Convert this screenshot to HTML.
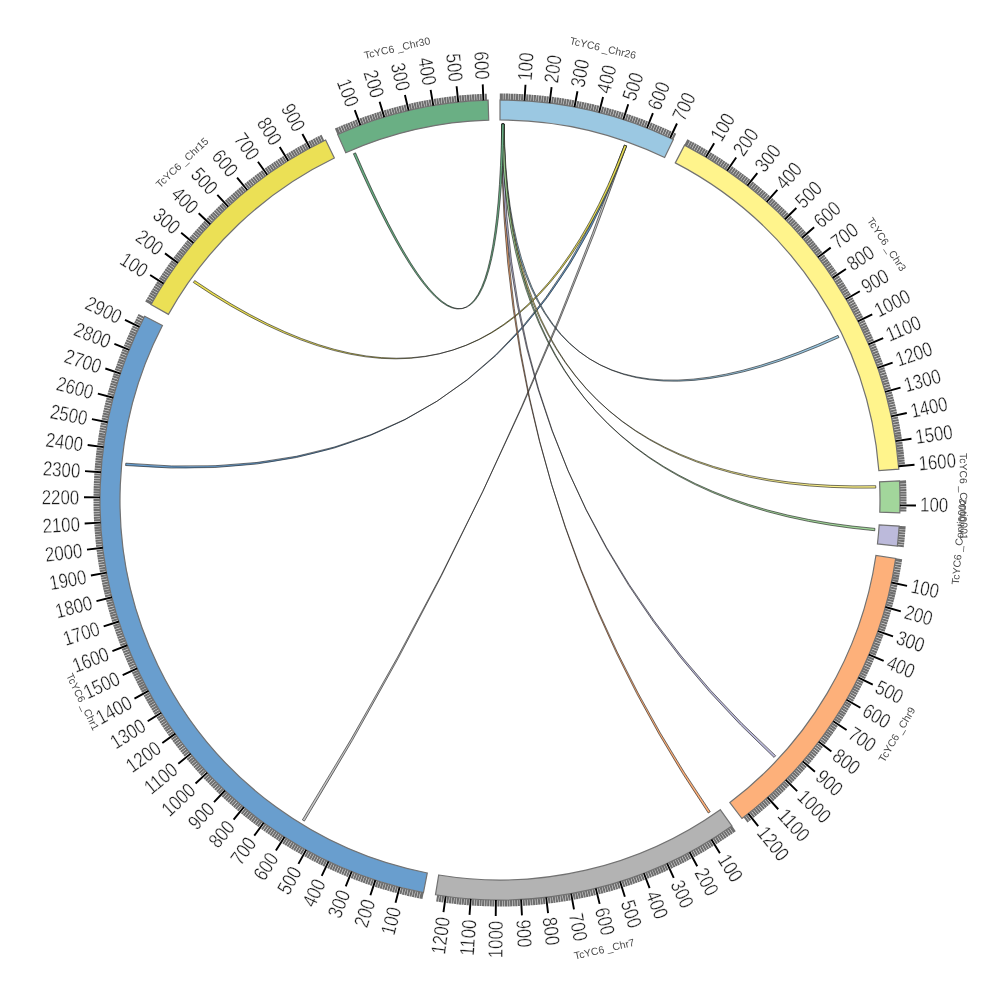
<!DOCTYPE html><html><head><meta charset="utf-8"><style>html,body{margin:0;padding:0;background:#fff;width:1000px;height:1000px;overflow:hidden}svg{display:block;will-change:transform}text{font-family:"Liberation Sans",sans-serif}</style></head><body>
<svg width="1000" height="1000" viewBox="0 0 1000 1000">
<rect width="1000" height="1000" fill="#fff"/>
<g stroke="#727272" stroke-width="1.2"><path d="M500,100 A400,400 0 0 1 673.3,139.49 L664.63,157.52 A380,380 0 0 0 500,120 Z" fill="#9bc8e2"/><path d="M684.54,145.11 A400,400 0 0 1 898.81,469.13 L878.87,470.68 A380,380 0 0 0 675.31,162.86 Z" fill="#fff48c"/><path d="M899.54,480.84 A400,400 0 0 1 899.79,512.85 L879.8,512.2 A380,380 0 0 0 879.56,481.8 Z" fill="#a2d69b"/><path d="M899.15,526.09 A400,400 0 0 1 897.33,546.18 L877.46,543.87 A380,380 0 0 0 879.19,524.79 Z" fill="#bcbadb"/><path d="M895.71,558.43 A400,400 0 0 1 741.96,818.52 L729.86,802.59 A380,380 0 0 0 875.92,555.51 Z" fill="#fdb07a"/><path d="M731.84,825.96 A400,400 0 0 1 435.49,894.76 L438.71,875.02 A380,380 0 0 0 720.25,809.66 Z" fill="#b3b3b3"/><path d="M423.46,892.61 A400,400 0 0 1 144.68,316.3 L162.44,325.49 A380,380 0 0 0 427.29,872.98 Z" fill="#699ece"/><path d="M150.96,304.62 A400,400 0 0 1 325.63,140 L334.35,158 A380,380 0 0 0 168.41,314.39 Z" fill="#ebe055"/><path d="M337.67,134.42 A400,400 0 0 1 488.13,100.18 L488.73,120.17 A380,380 0 0 0 345.78,152.7 Z" fill="#6aaf84"/></g>
<path d="M500.84 100L500.85 93.5M501.82 100L501.85 93.5M504.34 100.02L504.41 93.52M506.86 100.06L506.98 93.56M509.38 100.11L509.54 93.61M511.9 100.18L512.1 93.68M514.42 100.26L514.66 93.76M516.94 100.36L517.22 93.86M519.46 100.47L519.78 93.98M521.98 100.6L522.34 94.11M527.01 100.91L527.45 94.43M529.53 101.09L530.01 94.61M532.04 101.29L532.56 94.81M534.55 101.5L535.11 95.02M537.06 101.72L537.66 95.25M539.57 101.96L540.21 95.49M542.08 102.22L542.76 95.76M544.59 102.49L545.31 96.03M547.09 102.78L547.86 96.33M552.09 103.41L552.94 96.96M554.59 103.74L555.48 97.3M557.09 104.09L558.02 97.66M559.58 104.46L560.55 98.03M562.07 104.85L563.08 98.42M564.56 105.24L565.61 98.83M567.05 105.66L568.14 99.25M569.53 106.09L570.66 99.69M572.01 106.54L573.18 100.14M576.97 107.47L578.22 101.1M579.44 107.97L580.73 101.6M581.91 108.48L583.24 102.11M584.37 109L585.75 102.65M586.84 109.54L588.25 103.19M589.3 110.09L590.75 103.76M591.75 110.67L593.24 104.34M594.2 111.25L595.73 104.93M596.65 111.85L598.22 105.55M601.54 113.1L603.19 106.81M603.97 113.75L605.66 107.47M606.41 114.41L608.13 108.15M608.83 115.09L610.6 108.84M611.26 115.78L613.06 109.54M613.68 116.49L615.52 110.26M616.09 117.22L617.98 111M618.5 117.96L620.43 111.75M620.91 118.71L622.87 112.51M625.7 120.26L627.75 114.09M628.09 121.06L630.17 114.91M630.48 121.88L632.6 115.73M632.86 122.71L635.02 116.58M635.23 123.55L637.43 117.44M637.6 124.41L639.84 118.31M639.97 125.29L642.24 119.2M642.33 126.18L644.64 120.1M644.68 127.08L647.03 121.02M649.37 128.94L651.8 122.91M651.7 129.88L654.17 123.87M654.03 130.85L656.54 124.85M656.36 131.83L658.9 125.84M658.68 132.82L661.25 126.85M660.99 133.83L663.6 127.88M663.29 134.85L665.94 128.91M665.59 135.88L668.28 129.97M667.88 136.93L670.61 131.04M672.44 139.08L675.25 133.21M685.28 145.5L688.29 139.74M686.15 145.96L689.18 140.2M688.38 147.14L691.44 141.4M690.6 148.33L693.7 142.62M692.81 149.54L695.95 143.84M695.02 150.76L698.19 145.09M697.22 152L700.42 146.34M699.41 153.25L702.65 147.61M701.59 154.51L704.86 148.9M703.76 155.79L707.07 150.19M708.08 158.38L711.46 152.83M710.23 159.7L713.65 154.17M712.37 161.03L715.82 155.53M714.5 162.38L717.99 156.89M716.63 163.74L720.15 158.27M718.74 165.11L722.3 159.67M720.85 166.49L724.44 161.07M722.95 167.89L726.57 162.5M725.03 169.3L728.69 163.93M729.18 172.17L732.91 166.84M731.25 173.62L735 168.31M733.3 175.08L737.09 169.8M735.34 176.56L739.17 171.3M737.38 178.05L741.23 172.82M739.4 179.55L743.29 174.34M741.41 181.07L745.34 175.88M743.42 182.59L747.38 177.44M745.42 184.13L749.4 179M749.38 187.25L753.43 182.17M751.34 188.83L755.43 183.77M753.3 190.42L757.42 185.39M755.25 192.02L759.39 187.02M757.18 193.64L761.36 188.66M759.11 195.26L763.32 190.31M761.02 196.9L765.26 191.98M762.93 198.55L767.2 193.66M764.82 200.22L769.13 195.35M768.58 203.58L772.94 198.76M770.44 205.28L774.84 200.49M772.29 206.99L776.72 202.23M774.14 208.71L778.59 203.98M775.97 210.44L780.45 205.74M777.79 212.19L782.3 207.51M779.59 213.94L784.14 209.3M781.39 215.71L785.96 211.09M783.18 217.49L787.78 212.9M786.72 221.08L791.37 216.55M788.47 222.9L793.15 218.39M790.21 224.72L794.92 220.25M791.94 226.55L796.68 222.11M793.65 228.4L798.43 223.99M795.36 230.26L800.16 225.87M797.05 232.12L801.88 227.77M798.74 234L803.59 229.68M800.41 235.89L805.29 231.6M803.71 239.69L808.65 235.46M805.35 241.61L810.31 237.42M806.97 243.54L811.96 239.38M808.58 245.48L813.59 241.35M810.18 247.43L815.22 243.33M811.76 249.39L816.83 245.32M813.34 251.36L818.43 247.32M814.9 253.34L820.01 249.33M816.45 255.33L821.59 251.36M819.5 259.34L824.7 255.43M821.01 261.36L826.23 257.48M822.51 263.39L827.75 259.54M824 265.42L829.26 261.61M825.47 267.47L830.76 263.69M826.93 269.53L832.24 265.78M828.37 271.59L833.71 267.88M829.81 273.66L835.17 269.99M831.23 275.75L836.61 272.1M834.03 279.94L839.45 276.36M835.41 282.05L840.86 278.51M836.77 284.17L842.25 280.66M838.13 286.29L843.62 282.82M839.47 288.43L844.98 284.99M840.79 290.57L846.33 287.17M842.11 292.73L847.67 289.36M843.41 294.89L848.99 291.55M844.69 297.05L850.29 293.76M847.22 301.41L852.87 298.19M848.47 303.61L854.13 300.42M849.7 305.81L855.38 302.65M850.92 308.01L856.62 304.9M852.12 310.23L857.84 307.15M853.31 312.45L859.05 309.41M854.48 314.68L860.24 311.67M855.64 316.92L861.42 313.95M856.79 319.17L862.59 316.23M859.04 323.68L864.88 320.81M860.15 325.94L866 323.12M861.23 328.22L867.11 325.43M862.31 330.5L868.2 327.74M863.37 332.78L869.28 330.07M864.42 335.08L870.34 332.4M865.45 337.38L871.39 334.73M866.47 339.68L872.42 337.08M867.47 342L873.44 339.43M869.43 346.64L875.44 344.15M870.39 348.97L876.41 346.52M871.34 351.31L877.37 348.89M872.27 353.65L878.32 351.27M873.18 356L879.25 353.66M874.08 358.36L880.16 356.05M874.97 360.72L881.06 358.45M875.84 363.08L881.94 360.86M876.69 365.45L882.81 363.27M878.36 370.21L884.51 368.1M879.17 372.6L885.33 370.53M879.96 374.99L886.14 372.96M880.74 377.39L886.93 375.4M881.51 379.79L887.71 377.84M882.26 382.2L888.47 380.28M882.99 384.61L889.22 382.73M883.71 387.03L889.95 385.19M884.42 389.45L890.67 387.65M885.78 394.3L892.05 392.58M886.44 396.73L892.72 395.06M887.08 399.17L893.37 397.53M887.71 401.61L894.01 400.01M888.32 404.06L894.63 402.5M888.92 406.51L895.24 404.99M889.5 408.96L895.83 407.48M890.07 411.42L896.41 409.98M890.62 413.88L896.97 412.48M891.67 418.81L898.04 417.49M892.18 421.28L898.55 420M892.67 423.75L899.05 422.51M893.14 426.23L899.53 425.03M893.6 428.71L899.99 427.55M894.04 431.19L900.44 430.07M894.46 433.67L900.87 432.59M894.87 436.16L901.29 435.12M895.27 438.65L901.69 437.65M896.01 443.64L902.44 442.72M896.36 446.13L902.8 445.26M896.69 448.63L903.13 447.8M897 451.13L903.46 450.34M897.3 453.64L903.76 452.88M897.59 456.14L904.05 455.43M897.86 458.65L904.32 457.98M898.11 461.16L904.58 460.52M898.35 463.67L904.82 463.08M899.58 481.68L906.07 481.38M899.62 482.66L906.12 482.38M899.73 485.18L906.22 484.94M899.81 487.7L906.31 487.5M899.88 490.22L906.38 490.06M899.93 492.74L906.43 492.62M899.97 495.26L906.47 495.18M899.99 497.78L906.49 497.74M900 500.3L906.5 500.31M899.99 502.82L906.49 502.87M899.92 507.86L906.42 507.99M899.87 510.38L906.36 510.55M899.09 526.93L905.58 527.37M899.02 527.91L905.51 528.37M898.84 530.43L905.32 530.92M898.64 532.94L905.12 533.47M898.43 535.45L904.9 536.03M898.19 537.96L904.67 538.58M897.95 540.47L904.41 541.13M897.68 542.98L904.15 543.68M897.41 545.48L903.86 546.22M895.59 559.26L902.01 560.22M895.44 560.23L901.87 561.21M895.05 562.72L901.47 563.74M894.65 565.21L901.06 566.27M894.23 567.69L900.64 568.79M893.8 570.18L900.19 571.32M893.35 572.66L899.74 573.84M892.88 575.14L899.26 576.36M892.4 577.61L898.77 578.87M891.9 580.08L898.27 581.38M890.86 585.02L897.21 586.4M890.32 587.48L896.66 588.9M889.76 589.94L896.09 591.4M889.18 592.39L895.51 593.89M888.59 594.84L894.91 596.38M887.99 597.29L894.29 598.87M887.37 599.73L893.66 601.35M886.73 602.17L893.02 603.83M886.08 604.61L892.35 606.31M884.73 609.46L890.98 611.24M884.03 611.89L890.27 613.7M883.32 614.3L889.55 616.16M882.59 616.72L888.81 618.61M881.85 619.13L888.05 621.06M881.09 621.53L887.28 623.51M880.32 623.93L886.5 625.94M879.53 626.32L885.7 628.38M878.73 628.71L884.88 630.81M877.07 633.48L883.2 635.65M876.22 635.85L882.34 638.06M875.36 638.22L881.46 640.47M874.48 640.58L880.57 642.87M873.59 642.94L879.66 645.26M872.68 645.29L878.74 647.65M871.76 647.64L877.8 650.04M870.82 649.98L876.85 652.41M869.87 652.31L875.88 654.79M867.92 656.96L873.9 659.51M866.92 659.28L872.88 661.86M865.91 661.59L871.86 664.21M864.88 663.89L870.81 666.55M863.84 666.18L869.76 668.89M862.79 668.47L868.68 671.21M861.72 670.76L867.6 673.53M860.64 673.03L866.5 675.85M859.54 675.3L865.38 678.15M857.3 679.82L863.11 682.74M856.16 682.07L861.95 685.03M855.01 684.31L860.78 687.31M853.84 686.54L859.59 689.58M852.66 688.77L858.39 691.84M851.46 690.99L857.17 694.09M850.25 693.2L855.94 696.34M849.02 695.4L854.69 698.58M847.78 697.6L853.44 700.81M845.27 701.97L850.88 705.25M843.99 704.14L849.58 707.46M842.69 706.3L848.26 709.66M841.39 708.46L846.93 711.85M840.07 710.61L845.59 714.03M838.73 712.75L844.24 716.2M837.38 714.88L842.87 718.37M836.02 717L841.48 720.52M834.65 719.11L840.09 722.67M831.86 723.31L837.25 726.94M830.45 725.4L835.82 729.06M829.02 727.48L834.37 731.17M827.58 729.55L832.9 733.28M826.13 731.61L831.43 735.37M824.66 733.66L829.94 737.45M823.18 735.7L828.43 739.53M821.69 737.73L826.92 741.59M820.18 739.75L825.39 743.65M817.14 743.77L822.29 747.73M815.6 745.76L820.72 749.76M814.04 747.75L819.14 751.77M812.47 749.72L817.55 753.78M810.89 751.69L815.94 755.78M809.3 753.64L814.33 757.76M807.7 755.58L812.7 759.74M806.08 757.52L811.05 761.7M804.45 759.44L809.4 763.66M801.15 763.26L806.05 767.54M799.49 765.15L804.36 769.46M797.81 767.03L802.65 771.37M796.12 768.91L800.94 773.28M794.42 770.77L799.21 775.17M792.71 772.62L797.47 777.05M790.99 774.46L795.72 778.92M789.25 776.29L793.95 780.77M787.5 778.1L792.18 782.62M783.98 781.7L788.59 786.28M782.2 783.49L786.78 788.1M780.4 785.26L784.96 789.9M778.6 787.02L783.13 791.69M776.79 788.77L781.28 793.47M774.96 790.51L779.43 795.23M773.12 792.24L777.56 796.99M771.28 793.95L775.68 798.73M769.42 795.66L773.8 800.46M765.67 799.03L769.99 803.89M763.78 800.7L768.07 805.58M761.88 802.36L766.14 807.27M759.97 804L764.19 808.94M758.05 805.63L762.24 810.6M756.12 807.25L760.28 812.24M754.18 808.86L758.31 813.88M752.22 810.46L756.32 815.5M750.26 812.04L754.33 817.11M746.31 815.17L750.31 820.29M744.32 816.71L748.29 821.86M731.16 826.45L734.91 831.75M730.35 827.01L734.09 832.33M728.29 828.46L731.99 833.8M726.21 829.89L729.89 835.25M724.13 831.31L727.77 836.69M722.03 832.72L725.64 838.12M719.93 834.11L723.51 839.54M717.82 835.49L721.36 840.94M715.7 836.86L719.21 842.33M713.58 838.21L717.05 843.7M709.3 840.87L712.7 846.41M707.15 842.19L710.51 847.75M704.98 843.48L708.32 849.07M702.82 844.77L706.11 850.37M700.64 846.04L703.9 851.66M698.45 847.3L701.68 852.94M696.26 848.54L699.45 854.21M694.06 849.77L697.21 855.46M691.85 850.99L694.97 856.69M687.41 853.38L690.46 859.12M685.18 854.55L688.19 860.31M682.94 855.71L685.92 861.49M680.7 856.86L683.64 862.66M678.45 857.99L681.35 863.81M676.19 859.11L679.05 864.94M673.92 860.21L676.75 866.06M671.65 861.3L674.44 867.17M669.37 862.37L672.12 868.26M664.78 864.48L667.46 870.4M662.48 865.51L665.12 871.45M660.18 866.53L662.78 872.48M657.86 867.53L660.43 873.5M655.55 868.52L658.07 874.51M653.22 869.49L655.71 875.5M650.89 870.45L653.34 876.47M648.55 871.39L650.96 877.43M646.21 872.32L648.58 878.37M641.5 874.14L643.8 880.21M639.14 875.02L641.4 881.11M636.78 875.89L639 882M634.4 876.74L636.59 882.87M632.03 877.58L634.17 883.72M629.64 878.41L631.75 884.56M627.26 879.22L629.32 885.38M624.86 880.01L626.89 886.19M622.47 880.79L624.46 886.98M617.66 882.3L619.57 888.52M615.25 883.04L617.12 889.26M612.83 883.76L614.66 889.99M610.41 884.46L612.2 890.71M607.98 885.15L609.74 891.41M605.55 885.82L607.27 892.09M603.12 886.48L604.8 892.76M600.68 887.12L602.32 893.41M598.24 887.75L599.84 894.05M593.35 888.96L594.86 895.28M590.89 889.54L592.37 895.87M588.44 890.1L589.87 896.44M585.98 890.65L587.37 897M583.51 891.19L584.87 897.54M581.05 891.7L582.36 898.07M578.57 892.21L579.85 898.58M576.1 892.69L577.34 899.08M573.63 893.17L574.82 899.55M568.66 894.06L569.78 900.47M566.18 894.49L567.25 900.9M563.69 894.9L564.73 901.31M561.2 895.29L562.2 901.71M558.71 895.67L559.66 902.1M556.21 896.03L557.13 902.47M553.72 896.38L554.59 902.82M551.22 896.71L552.05 903.15M548.72 897.02L549.51 903.47M543.71 897.6L544.42 904.07M541.2 897.87L541.87 904.34M538.69 898.12L539.32 904.59M536.18 898.36L536.77 904.83M533.67 898.58L534.22 905.06M531.16 898.78L531.67 905.26M528.65 898.97L529.11 905.46M526.13 899.15L526.56 905.63M523.61 899.3L524 905.79M518.58 899.57L518.88 906.06M516.06 899.68L516.32 906.17M513.54 899.77L513.76 906.27M511.02 899.85L511.2 906.35M508.5 899.91L508.64 906.41M505.98 899.96L506.08 906.45M503.46 899.99L503.52 906.48M500.94 900L500.96 906.5M498.42 900L498.39 906.5M493.38 899.95L493.27 906.44M490.86 899.9L490.71 906.39M488.34 899.83L488.15 906.33M485.82 899.75L485.59 906.24M483.3 899.65L483.03 906.15M480.78 899.54L480.47 906.03M478.26 899.41L477.91 905.9M475.75 899.26L475.35 905.75M473.23 899.1L472.8 905.59M468.2 898.73L467.69 905.21M465.69 898.53L465.13 905M463.18 898.3L462.58 904.77M460.67 898.06L460.03 904.53M458.16 897.81L457.48 904.27M455.65 897.53L454.93 903.99M453.15 897.25L452.39 903.7M450.65 896.94L449.85 903.39M448.15 896.62L447.3 903.07M443.15 895.94L442.23 902.37M440.66 895.57L439.69 902M438.17 895.19L437.16 901.61M422.64 892.45L421.38 898.82M421.67 892.26L420.4 898.63M419.2 891.75L417.89 898.12M416.73 891.24L415.38 897.6M414.27 890.7L412.88 897.05M411.81 890.16L410.38 896.5M409.35 889.59L407.88 895.92M406.9 889.01L405.39 895.34M404.45 888.42L402.9 894.73M402 887.81L400.41 894.11M397.12 886.54L395.45 892.83M394.69 885.89L392.98 892.16M392.26 885.22L390.51 891.48M389.83 884.53L388.04 890.78M387.41 883.83L385.58 890.07M384.99 883.11L383.13 889.34M382.58 882.38L380.67 888.59M380.17 881.63L378.23 887.83M377.77 880.87L375.79 887.06M372.98 879.3L370.92 885.46M370.59 878.49L368.49 884.64M368.21 877.67L366.07 883.8M365.83 876.83L363.65 882.95M363.46 875.97L361.24 882.08M361.09 875.11L358.84 881.2M358.73 874.22L356.44 880.31M356.38 873.33L354.04 879.39M354.03 872.41L351.66 878.47M349.34 870.54L346.9 876.57M347.01 869.59L344.53 875.59M344.69 868.62L342.16 874.61M342.37 867.63L339.8 873.6M340.05 866.63L337.45 872.59M337.75 865.61L335.11 871.55M335.44 864.58L332.77 870.51M333.15 863.54L330.44 869.45M330.86 862.48L328.11 868.37M326.31 860.32L323.48 866.18M324.04 859.22L321.18 865.06M321.78 858.1L318.88 863.92M319.53 856.97L316.59 862.77M317.28 855.83L314.31 861.61M315.04 854.67L312.03 860.43M312.81 853.5L309.77 859.24M310.58 852.31L307.51 858.03M308.37 851.11L305.25 856.81M303.96 848.67L300.77 854.33M301.76 847.42L298.54 853.07M299.58 846.17L296.32 851.79M297.4 844.9L294.11 850.5M295.23 843.61L291.9 849.2M293.07 842.32L289.71 847.88M290.92 841L287.52 846.55M288.77 839.68L285.34 845.2M286.64 838.34L283.17 843.84M282.39 835.63L278.85 841.08M280.28 834.25L276.71 839.68M278.17 832.86L274.57 838.27M276.08 831.45L272.44 836.84M274 830.03L270.32 835.4M271.92 828.6L268.21 833.94M269.85 827.16L266.11 832.48M267.8 825.7L264.02 830.99M265.75 824.23L261.94 829.5M261.68 821.25L257.81 826.47M259.66 819.75L255.76 824.94M257.65 818.22L253.71 823.4M255.65 816.69L251.68 821.84M253.66 815.14L249.66 820.27M251.68 813.59L247.64 818.68M249.71 812.01L245.64 817.09M247.75 810.43L243.65 815.48M245.79 808.84L241.66 813.85M241.92 805.61L237.73 810.57M240 803.97L235.78 808.91M238.09 802.33L233.83 807.24M236.19 800.67L231.9 805.56M234.3 799L229.98 803.86M232.42 797.32L228.07 802.16M230.55 795.63L226.17 800.44M228.69 793.93L224.29 798.7M226.85 792.21L222.41 796.96M223.19 788.75L218.69 793.44M221.37 787L216.84 791.66M219.57 785.23L215.01 789.87M217.78 783.46L213.19 788.07M216 781.68L211.38 786.25M214.23 779.88L209.58 784.43M212.47 778.07L207.8 782.59M210.72 776.26L206.02 780.75M208.99 774.43L204.26 778.89M205.55 770.74L200.77 775.14M203.85 768.88L199.04 773.25M202.16 767.01L197.32 771.34M200.48 765.12L195.62 769.43M198.82 763.23L193.93 767.51M197.17 761.33L192.25 765.57M195.53 759.41L190.58 763.63M193.9 757.49L188.92 761.67M192.28 755.55L187.28 759.71M189.08 751.66L184.03 755.75M187.5 749.69L182.43 753.75M185.94 747.72L180.83 751.74M184.38 745.73L179.25 749.73M182.84 743.74L177.68 747.7M181.31 741.74L176.13 745.66M179.79 739.72L174.59 743.62M178.29 737.7L173.06 741.56M176.8 735.67L171.54 739.5M173.85 731.57L168.55 735.34M172.4 729.51L167.07 733.24M170.96 727.44L165.61 731.14M169.53 725.37L164.16 729.03M168.12 723.28L162.72 726.91M166.72 721.18L161.3 724.78M165.33 719.08L159.89 722.64M163.96 716.97L158.49 720.49M162.59 714.84L157.11 718.33M159.91 710.57L154.39 713.99M158.59 708.43L153.05 711.81M157.29 706.27L151.72 709.62M155.99 704.11L150.4 707.42M154.71 701.93L149.1 705.22M153.45 699.75L147.82 703M152.2 697.57L146.54 700.78M150.96 695.37L145.29 698.54M149.73 693.17L144.04 696.31M147.33 688.74L141.6 691.8M146.14 686.51L140.39 689.54M144.98 684.28L139.21 687.27M143.82 682.03L138.03 684.99M142.68 679.79L136.87 682.71M141.55 677.53L135.73 680.42M140.44 675.27L134.6 678.12M139.35 673L133.49 675.81M138.26 670.72L132.38 673.5M136.14 666.15L130.23 668.85M135.1 663.85L129.17 666.52M134.07 661.55L128.13 664.18M133.06 659.24L127.1 661.83M132.07 656.92L126.09 659.47M131.09 654.6L125.09 657.12M130.12 652.27L124.11 654.75M129.17 649.94L123.14 652.38M128.23 647.6L122.19 650M126.4 642.9L120.33 645.23M125.5 640.55L119.42 642.83M124.63 638.18L118.53 640.43M123.76 635.81L117.65 638.02M122.91 633.44L116.79 635.61M122.08 631.06L115.94 633.19M121.26 628.68L115.11 630.77M120.46 626.29L114.29 628.34M119.67 623.89L113.49 625.91M118.14 619.09L111.93 621.02M117.4 616.68L111.18 618.58M116.67 614.27L110.44 616.12M115.96 611.85L109.72 613.67M115.26 609.43L109.01 611.2M114.58 607L108.31 608.74M113.91 604.57L107.64 606.27M113.26 602.13L106.97 603.79M112.62 599.69L106.33 601.31M111.4 594.8L105.08 596.34M110.81 592.35L104.48 593.85M110.23 589.9L103.9 591.36M109.67 587.44L103.33 588.86M109.13 584.98L102.78 586.36M108.6 582.51L102.24 583.85M108.09 580.04L101.72 581.34M107.59 577.57L101.22 578.83M107.11 575.1L100.73 576.32M106.2 570.14L99.8 571.28M105.76 567.66L99.36 568.76M105.34 565.17L98.93 566.23M104.94 562.68L98.52 563.7M104.55 560.19L98.13 561.17M104.18 557.7L97.75 558.64M103.83 555.2L97.39 556.1M103.49 552.7L97.04 553.56M103.16 550.2L96.71 551.02M102.56 545.2L96.1 545.93M102.28 542.69L95.82 543.39M102.02 540.18L95.56 540.84M101.78 537.68L95.31 538.29M101.55 535.17L95.07 535.74M101.34 532.65L94.86 533.18M101.14 530.14L94.66 530.63M100.96 527.63L94.47 528.08M100.79 525.11L94.3 525.52M100.5 520.08L94.01 520.4M100.39 517.56L93.89 517.84M100.28 515.04L93.79 515.28M100.2 512.52L93.7 512.72M100.13 510L93.63 510.16M100.07 507.48L93.57 507.6M100.03 504.96L93.53 505.04M100.01 502.44L93.51 502.48M100 499.92L93.5 499.92M100.03 494.88L93.53 494.79M100.07 492.36L93.57 492.23M100.13 489.84L93.63 489.67M100.2 487.32L93.7 487.11M100.29 484.8L93.79 484.55M100.39 482.28L93.9 481.99M100.51 479.76L94.02 479.43M100.65 477.24L94.16 476.87M100.8 474.73L94.31 474.31M101.15 469.7L94.67 469.2M101.35 467.18L94.87 466.65M101.56 464.67L95.09 464.1M101.79 462.16L95.32 461.55M102.04 459.65L95.57 459M102.3 457.14L95.84 456.45M102.58 454.64L96.12 453.9M102.87 452.14L96.42 451.36M103.18 449.63L96.74 448.82M103.85 444.64L97.41 443.74M104.21 442.14L97.78 441.2M104.58 439.65L98.15 438.67M104.97 437.16L98.55 436.14M105.37 434.67L98.96 433.61M105.79 432.18L99.39 431.08M106.23 429.7L99.83 428.56M106.68 427.22L100.29 426.04M107.14 424.74L100.76 423.52M108.12 419.8L101.76 418.49M108.64 417.33L102.28 415.98M109.17 414.86L102.81 413.48M109.71 412.4L103.37 410.98M110.27 409.94L103.94 408.48M110.84 407.49L104.52 405.99M111.44 405.04L105.12 403.5M112.04 402.59L105.74 401.01M112.66 400.15L106.37 398.53M113.95 395.27L107.68 393.57M114.62 392.84L108.36 391.1M115.3 390.42L109.05 388.64M116 387.99L109.76 386.17M116.72 385.58L110.49 383.72M117.44 383.16L111.23 381.26M118.19 380.75L111.98 378.82M118.95 378.35L112.75 376.37M119.72 375.95L113.54 373.94M121.32 371.17L115.16 369.07M122.13 368.78L115.99 366.65M122.97 366.41L116.84 364.23M123.82 364.03L117.71 361.82M124.68 361.66L118.58 359.42M125.56 359.3L119.48 357.01M126.46 356.94L120.39 354.62M127.37 354.59L121.31 352.23M128.29 352.25L122.25 349.85M130.18 347.57L124.17 345.1M131.15 345.25L125.16 342.73M132.13 342.92L126.15 340.37M133.13 340.61L127.17 338.02M134.14 338.3L128.2 335.67M135.17 336L129.24 333.33M136.21 333.7L130.3 331M137.26 331.41L131.37 328.67M138.33 329.13L132.46 326.35M140.52 324.58L134.67 321.73M141.63 322.32L135.8 319.44M142.75 320.07L136.95 317.14M143.9 317.82L138.11 314.86M151.37 303.89L145.71 300.7M151.86 303.03L146.2 299.83M153.1 300.84L147.47 297.61M154.37 298.66L148.75 295.39M155.64 296.49L150.05 293.18M156.93 294.32L151.36 290.98M158.23 292.16L152.68 288.79M159.55 290.01L154.02 286.6M160.88 287.87L155.37 284.42M162.23 285.74L156.74 282.26M164.95 281.5L159.51 277.95M166.34 279.39L160.91 275.81M167.73 277.29L162.33 273.67M169.14 275.2L163.77 271.55M170.57 273.12L165.21 269.44M172 271.05L166.67 267.33M173.45 268.99L168.15 265.23M174.91 266.93L169.63 263.15M176.39 264.89L171.13 261.07M179.38 260.83L174.17 256.94M180.89 258.81L175.71 254.89M182.42 256.81L177.26 252.86M183.96 254.81L178.82 250.83M185.51 252.82L180.4 248.81M187.07 250.85L181.99 246.8M188.65 248.88L183.59 244.8M190.24 246.92L185.21 242.81M191.84 244.98L186.83 240.83M195.08 241.11L190.12 236.9M196.72 239.19L191.79 234.96M198.37 237.29L193.46 233.02M200.03 235.39L195.15 231.09M201.7 233.51L196.85 229.18M203.39 231.63L198.57 227.27M205.08 229.77L200.29 225.38M206.79 227.92L202.03 223.49M208.51 226.07L203.78 221.62M211.99 222.42L207.31 217.91M213.74 220.61L209.09 216.07M215.51 218.81L210.89 214.24M217.29 217.03L212.69 212.43M219.08 215.25L214.51 210.62M220.88 213.48L216.34 208.83M222.69 211.73L218.18 207.05M224.51 209.99L220.03 205.28M226.34 208.26L221.9 203.52M230.04 204.83L225.66 200.04M231.91 203.14L227.55 198.31M233.79 201.45L229.46 196.6M235.67 199.78L231.38 194.9M237.57 198.12L233.31 193.22M239.48 196.47L235.24 191.54M241.4 194.84L237.19 189.88M243.32 193.21L239.15 188.23M245.26 191.6L241.12 186.59M249.17 188.42L245.09 183.35M251.14 186.84L247.09 181.75M253.12 185.28L249.11 180.17M255.11 183.73L251.13 178.59M257.1 182.19L253.16 177.03M259.11 180.67L255.2 175.48M261.13 179.16L257.25 173.94M263.16 177.66L259.31 172.42M265.19 176.17L261.38 170.91M269.29 173.24L265.54 167.93M271.36 171.79L267.64 166.46M273.43 170.36L269.75 165M275.51 168.93L271.86 163.55M277.6 167.53L273.99 162.12M279.7 166.13L276.12 160.71M281.81 164.75L278.26 159.3M283.93 163.38L280.42 157.91M286.05 162.03L282.58 156.53M290.33 159.36L286.92 153.82M292.48 158.04L289.11 152.48M294.64 156.74L291.3 151.16M296.81 155.45L293.51 149.85M298.98 154.18L295.72 148.56M301.17 152.92L297.94 147.28M303.36 151.67L300.16 146.01M305.56 150.44L302.4 144.76M307.76 149.22L304.64 143.52M312.2 146.83L309.15 141.09M314.43 145.65L311.41 139.89M316.67 144.49L313.69 138.71M318.91 143.34L315.97 137.54M321.16 142.21L318.26 136.39M323.42 141.09L320.55 135.25M338.43 134.08L335.81 128.14M339.33 133.69L336.72 127.73M341.64 132.68L339.07 126.71M343.96 131.69L341.43 125.7M346.29 130.71L343.79 124.71M348.62 129.75L346.16 123.74M350.95 128.81L348.53 122.77M353.3 127.87L350.91 121.83M355.64 126.96L353.3 120.89M358 126.05L355.69 119.98M362.72 124.29L360.49 118.19M365.09 123.44L362.9 117.32M367.47 122.59L365.32 116.46M369.85 121.77L367.74 115.62M372.24 120.95L370.16 114.79M374.63 120.16L372.59 113.98M377.02 119.37L375.03 113.19M379.43 118.61L377.47 112.41M381.83 117.85L379.91 111.64M386.66 116.39L384.82 110.16M389.08 115.69L387.28 109.44M391.5 115L389.74 108.74M393.93 114.32L392.21 108.05M396.36 113.66L394.68 107.38M398.8 113.01L397.16 106.72M401.24 112.38L399.64 106.08M403.69 111.77L402.12 105.46M406.13 111.17L404.61 104.85M411.04 110.02L409.6 103.68M413.5 109.46L412.1 103.12M415.97 108.93L414.6 102.57M418.43 108.4L417.11 102.04M420.9 107.9L419.62 101.53M423.37 107.41L422.13 101.03M425.85 106.93L424.65 100.55M428.33 106.47L427.16 100.08M430.81 106.03L429.69 99.63M435.78 105.19L434.74 98.77M438.27 104.79L437.27 98.37M440.76 104.41L439.8 97.98M443.26 104.05L442.34 97.61M445.75 103.7L444.87 97.26M448.25 103.36L447.41 96.92M450.75 103.04L449.95 96.59M453.26 102.74L452.5 96.29M455.76 102.45L455.04 95.99M460.77 101.93L460.14 95.46M463.28 101.69L462.69 95.22M465.8 101.47L465.24 94.99M468.31 101.26L467.79 94.78M470.82 101.07L470.35 94.58M473.34 100.89L472.9 94.4M475.85 100.73L475.46 94.24M478.37 100.59L478.02 94.09M480.89 100.46L480.58 93.96M485.92 100.25L485.7 93.75" stroke="#6e6e6e" stroke-width="2.1" fill="none"/>
<path d="M524.5 100.75L525.48 84.78M549.59 103.09L551.58 87.21M574.49 107L577.47 91.28M599.1 112.47L603.06 96.97M623.31 119.48L628.24 104.26M647.03 128L652.91 113.12M670.16 138L676.97 123.52M705.93 157.08L714.16 143.36M727.11 170.73L736.2 157.56M747.4 185.69L757.3 173.11M766.71 201.89L777.37 189.97M784.95 219.28L796.35 208.05M802.07 237.79L814.15 227.3M817.98 257.33L830.7 247.62M832.63 277.84L845.94 268.95M845.96 299.23L859.8 291.2M857.92 321.42L872.24 314.28M868.46 344.32L883.2 338.09M877.53 367.83L892.63 362.54M885.11 391.87L900.51 387.55M891.15 416.34L906.8 412.99M895.65 441.14L911.47 438.79M898.57 466.18L914.51 464.82M899.96 505.34L915.96 505.56M891.39 582.55L907.04 585.85M885.41 607.04L900.83 611.32M877.91 631.1L893.02 636.34M868.9 654.64L883.66 660.82M858.43 677.57L872.76 684.67M846.53 699.79L860.39 707.78M833.26 721.22L846.59 730.06M818.67 741.77L831.41 751.44M802.81 761.36L814.92 771.81M785.75 779.91L797.18 791.11M767.55 797.35L778.25 809.24M748.29 813.61L758.22 826.15M711.44 839.55L719.9 853.13M689.64 852.19L697.22 866.28M667.08 863.43L673.76 877.97M643.86 873.24L649.61 888.17M620.06 881.56L624.87 896.82M595.8 888.36L599.63 903.89M571.15 893.62L573.99 909.37M546.21 897.32L548.06 913.21M521.1 899.44L521.94 915.42M495.9 899.98L495.73 915.98M470.72 898.93L469.54 914.88M445.65 896.29L443.47 912.14M399.56 887.18L395.54 902.67M375.37 880.09L370.39 895.29M351.68 871.49L345.75 886.35M328.58 861.41L321.72 875.86M306.16 849.89L298.41 863.89M284.51 836.99L275.89 850.47M263.71 822.75L254.26 835.66M243.85 807.23L233.61 819.52M225.01 790.48L214.01 802.1M207.26 772.59L195.55 783.49M190.68 753.61L178.3 763.75M175.32 733.63L162.33 742.97M161.25 712.71L147.7 721.22M148.52 690.95L134.46 698.59M137.19 668.44L122.68 675.18M127.31 645.25L112.4 651.06M118.9 621.49L103.65 626.35M112 597.25L96.48 601.14M106.65 572.62L90.91 575.52M102.85 547.7L86.97 549.61M100.64 522.59L84.66 523.5M100.01 497.4L84.01 497.29M100.97 472.21L85.01 471.1M103.51 447.13L87.65 445.02M107.63 422.27L91.93 419.16M113.3 397.71L97.83 393.62M120.51 373.56L105.33 368.5M129.23 349.91L114.4 343.9M139.42 326.85L124.99 319.93M163.58 283.61L150.13 274.96M177.88 262.86L164.99 253.37M193.45 243.04L181.19 232.76M210.25 224.24L198.66 213.21M228.19 206.54L217.32 194.8M247.21 190L237.1 177.6M267.24 174.7L257.93 161.69M288.19 160.68L279.71 147.11M309.98 148.02L302.38 133.94M360.36 125.17L354.77 110.17M384.24 117.12L379.61 101.8M408.59 110.59L404.93 95.01M433.29 105.6L430.63 89.83M458.27 102.18L456.6 86.27M483.4 100.34L482.74 84.36" stroke="#000" stroke-width="1.9" fill="none"/>
<g font-size="20.5" fill="#1a1a1a" stroke="#fff" stroke-width="0.35"><text transform="translate(525.73,80.59) rotate(-86.49) scale(0.82,1)" text-anchor="start" dy="6.0">100</text><text transform="translate(552.1,83.04) rotate(-82.88) scale(0.82,1)" text-anchor="start" dy="6.0">200</text><text transform="translate(578.25,87.15) rotate(-79.27) scale(0.82,1)" text-anchor="start" dy="6.0">300</text><text transform="translate(604.1,92.9) rotate(-75.66) scale(0.82,1)" text-anchor="start" dy="6.0">400</text><text transform="translate(629.53,100.26) rotate(-72.05) scale(0.82,1)" text-anchor="start" dy="6.0">500</text><text transform="translate(654.45,109.22) rotate(-68.43) scale(0.82,1)" text-anchor="start" dy="6.0">600</text><text transform="translate(678.76,119.72) rotate(-64.82) scale(0.82,1)" text-anchor="start" dy="6.0">700</text><text transform="translate(716.32,139.76) rotate(-59.02) scale(0.82,1)" text-anchor="start" dy="6.0">100</text><text transform="translate(738.58,154.1) rotate(-55.4) scale(0.82,1)" text-anchor="start" dy="6.0">200</text><text transform="translate(759.89,169.81) rotate(-51.79) scale(0.82,1)" text-anchor="start" dy="6.0">300</text><text transform="translate(780.17,186.84) rotate(-48.18) scale(0.82,1)" text-anchor="start" dy="6.0">400</text><text transform="translate(799.34,205.11) rotate(-44.57) scale(0.82,1)" text-anchor="start" dy="6.0">500</text><text transform="translate(817.32,224.54) rotate(-40.96) scale(0.82,1)" text-anchor="start" dy="6.0">600</text><text transform="translate(834.04,245.08) rotate(-37.35) scale(0.82,1)" text-anchor="start" dy="6.0">700</text><text transform="translate(849.43,266.62) rotate(-33.74) scale(0.82,1)" text-anchor="start" dy="6.0">800</text><text transform="translate(863.44,289.09) rotate(-30.13) scale(0.82,1)" text-anchor="start" dy="6.0">900</text><text transform="translate(876,312.4) rotate(-26.52) scale(0.82,1)" text-anchor="start" dy="6.0">1000</text><text transform="translate(887.07,336.45) rotate(-22.91) scale(0.82,1)" text-anchor="start" dy="6.0">1100</text><text transform="translate(896.6,361.16) rotate(-19.29) scale(0.82,1)" text-anchor="start" dy="6.0">1200</text><text transform="translate(904.56,386.41) rotate(-15.68) scale(0.82,1)" text-anchor="start" dy="6.0">1300</text><text transform="translate(910.91,412.12) rotate(-12.07) scale(0.82,1)" text-anchor="start" dy="6.0">1400</text><text transform="translate(915.63,438.17) rotate(-8.46) scale(0.82,1)" text-anchor="start" dy="6.0">1500</text><text transform="translate(918.7,464.47) rotate(-4.85) scale(0.82,1)" text-anchor="start" dy="6.0">1600</text><text transform="translate(920.16,505.61) rotate(0.77) scale(0.82,1)" text-anchor="start" dy="6.0">100</text><text transform="translate(911.15,586.72) rotate(11.91) scale(0.82,1)" text-anchor="start" dy="6.0">100</text><text transform="translate(904.88,612.44) rotate(15.52) scale(0.82,1)" text-anchor="start" dy="6.0">200</text><text transform="translate(896.99,637.72) rotate(19.13) scale(0.82,1)" text-anchor="start" dy="6.0">300</text><text transform="translate(887.53,662.45) rotate(22.74) scale(0.82,1)" text-anchor="start" dy="6.0">400</text><text transform="translate(876.53,686.53) rotate(26.35) scale(0.82,1)" text-anchor="start" dy="6.0">500</text><text transform="translate(864.03,709.88) rotate(29.96) scale(0.82,1)" text-anchor="start" dy="6.0">600</text><text transform="translate(850.09,732.39) rotate(33.58) scale(0.82,1)" text-anchor="start" dy="6.0">700</text><text transform="translate(834.76,753.98) rotate(37.19) scale(0.82,1)" text-anchor="start" dy="6.0">800</text><text transform="translate(818.1,774.56) rotate(40.8) scale(0.82,1)" text-anchor="start" dy="6.0">900</text><text transform="translate(800.18,794.04) rotate(44.41) scale(0.82,1)" text-anchor="start" dy="6.0">1000</text><text transform="translate(781.06,812.37) rotate(48.02) scale(0.82,1)" text-anchor="start" dy="6.0">1100</text><text transform="translate(760.83,829.45) rotate(51.63) scale(0.82,1)" text-anchor="start" dy="6.0">1200</text><text transform="translate(722.12,856.69) rotate(58.09) scale(0.82,1)" text-anchor="start" dy="6.0">100</text><text transform="translate(699.21,869.98) rotate(61.7) scale(0.82,1)" text-anchor="start" dy="6.0">200</text><text transform="translate(675.52,881.79) rotate(65.31) scale(0.82,1)" text-anchor="start" dy="6.0">300</text><text transform="translate(651.12,892.08) rotate(68.92) scale(0.82,1)" text-anchor="start" dy="6.0">400</text><text transform="translate(626.13,900.82) rotate(72.53) scale(0.82,1)" text-anchor="start" dy="6.0">500</text><text transform="translate(600.63,907.97) rotate(76.14) scale(0.82,1)" text-anchor="start" dy="6.0">600</text><text transform="translate(574.74,913.5) rotate(79.75) scale(0.82,1)" text-anchor="start" dy="6.0">700</text><text transform="translate(548.55,917.39) rotate(83.37) scale(0.82,1)" text-anchor="start" dy="6.0">800</text><text transform="translate(522.16,919.62) rotate(86.98) scale(0.82,1)" text-anchor="start" dy="6.0">900</text><text transform="translate(495.69,920.78) rotate(270.59) scale(0.82,1)" text-anchor="end" dy="7.2">1000</text><text transform="translate(469.19,919.67) rotate(274.2) scale(0.82,1)" text-anchor="end" dy="7.2">1100</text><text transform="translate(442.82,916.9) rotate(277.81) scale(0.82,1)" text-anchor="end" dy="7.2">1200</text><text transform="translate(394.34,907.32) rotate(284.54) scale(0.82,1)" text-anchor="end" dy="7.2">100</text><text transform="translate(368.89,899.85) rotate(288.15) scale(0.82,1)" text-anchor="end" dy="7.2">200</text><text transform="translate(343.97,890.8) rotate(291.76) scale(0.82,1)" text-anchor="end" dy="7.2">300</text><text transform="translate(319.67,880.2) rotate(295.38) scale(0.82,1)" text-anchor="end" dy="7.2">400</text><text transform="translate(296.08,868.09) rotate(298.99) scale(0.82,1)" text-anchor="end" dy="7.2">500</text><text transform="translate(273.3,854.51) rotate(302.6) scale(0.82,1)" text-anchor="end" dy="7.2">600</text><text transform="translate(251.42,839.53) rotate(306.21) scale(0.82,1)" text-anchor="end" dy="7.2">700</text><text transform="translate(230.53,823.2) rotate(309.82) scale(0.82,1)" text-anchor="end" dy="7.2">800</text><text transform="translate(210.71,805.59) rotate(313.43) scale(0.82,1)" text-anchor="end" dy="7.2">900</text><text transform="translate(192.04,786.76) rotate(317.04) scale(0.82,1)" text-anchor="end" dy="7.2">1000</text><text transform="translate(174.59,766.8) rotate(320.65) scale(0.82,1)" text-anchor="end" dy="7.2">1100</text><text transform="translate(158.43,745.77) rotate(324.26) scale(0.82,1)" text-anchor="end" dy="7.2">1200</text><text transform="translate(143.63,723.77) rotate(327.87) scale(0.82,1)" text-anchor="end" dy="7.2">1300</text><text transform="translate(130.25,700.88) rotate(331.49) scale(0.82,1)" text-anchor="end" dy="7.2">1400</text><text transform="translate(118.33,677.2) rotate(335.1) scale(0.82,1)" text-anchor="end" dy="7.2">1500</text><text transform="translate(107.93,652.81) rotate(338.71) scale(0.82,1)" text-anchor="end" dy="7.2">1600</text><text transform="translate(99.08,627.81) rotate(342.32) scale(0.82,1)" text-anchor="end" dy="7.2">1700</text><text transform="translate(91.83,602.31) rotate(345.93) scale(0.82,1)" text-anchor="end" dy="7.2">1800</text><text transform="translate(86.19,576.4) rotate(349.54) scale(0.82,1)" text-anchor="end" dy="7.2">1900</text><text transform="translate(82.2,550.18) rotate(353.15) scale(0.82,1)" text-anchor="end" dy="7.2">2000</text><text transform="translate(79.87,523.77) rotate(356.76) scale(0.82,1)" text-anchor="end" dy="7.2">2100</text><text transform="translate(79.21,497.26) rotate(360.37) scale(0.82,1)" text-anchor="end" dy="7.2">2200</text><text transform="translate(80.22,470.77) rotate(363.98) scale(0.82,1)" text-anchor="end" dy="7.2">2300</text><text transform="translate(82.89,444.38) rotate(367.59) scale(0.82,1)" text-anchor="end" dy="7.2">2400</text><text transform="translate(87.22,418.22) rotate(371.21) scale(0.82,1)" text-anchor="end" dy="7.2">2500</text><text transform="translate(93.19,392.39) rotate(374.82) scale(0.82,1)" text-anchor="end" dy="7.2">2600</text><text transform="translate(100.78,366.98) rotate(378.43) scale(0.82,1)" text-anchor="end" dy="7.2">2700</text><text transform="translate(109.95,342.1) rotate(382.04) scale(0.82,1)" text-anchor="end" dy="7.2">2800</text><text transform="translate(120.67,317.85) rotate(385.65) scale(0.82,1)" text-anchor="end" dy="7.2">2900</text><text transform="translate(146.09,272.36) rotate(392.75) scale(0.82,1)" text-anchor="end" dy="7.2">100</text><text transform="translate(161.13,250.52) rotate(396.36) scale(0.82,1)" text-anchor="end" dy="7.2">200</text><text transform="translate(177.51,229.68) rotate(399.97) scale(0.82,1)" text-anchor="end" dy="7.2">300</text><text transform="translate(195.18,209.9) rotate(403.58) scale(0.82,1)" text-anchor="end" dy="7.2">400</text><text transform="translate(214.05,191.28) rotate(407.19) scale(0.82,1)" text-anchor="end" dy="7.2">500</text><text transform="translate(234.07,173.88) rotate(410.8) scale(0.82,1)" text-anchor="end" dy="7.2">600</text><text transform="translate(255.13,157.78) rotate(414.42) scale(0.82,1)" text-anchor="end" dy="7.2">700</text><text transform="translate(277.17,143.04) rotate(418.03) scale(0.82,1)" text-anchor="end" dy="7.2">800</text><text transform="translate(300.1,129.71) rotate(421.64) scale(0.82,1)" text-anchor="end" dy="7.2">900</text><text transform="translate(353.1,105.68) rotate(429.57) scale(0.82,1)" text-anchor="end" dy="7.2">100</text><text transform="translate(378.22,97.21) rotate(433.18) scale(0.82,1)" text-anchor="end" dy="7.2">200</text><text transform="translate(403.83,90.34) rotate(436.79) scale(0.82,1)" text-anchor="end" dy="7.2">300</text><text transform="translate(429.83,85.09) rotate(440.4) scale(0.82,1)" text-anchor="end" dy="7.2">400</text><text transform="translate(456.1,81.5) rotate(444.01) scale(0.82,1)" text-anchor="end" dy="7.2">500</text><text transform="translate(482.54,79.56) rotate(447.62) scale(0.82,1)" text-anchor="end" dy="7.2">600</text></g>
<g font-size="10.4" fill="#4a4a4a"><text transform="translate(602.2,51.5) rotate(12.84)" text-anchor="middle" dy="0">TcYC6 _Chr26</text><text transform="translate(883.69,246.27) rotate(56.52)" text-anchor="middle" dy="0">TcYC6 _Chr3</text><text transform="translate(959.99,496.37) rotate(89.55)" text-anchor="middle" dy="0">TcYC6 _Contig001</text><text transform="translate(959.11,541.66) rotate(-84.82)" text-anchor="middle" dy="3.6">TcYC6 _Contig002</text><text transform="translate(896.85,734.59) rotate(-59.41)" text-anchor="middle" dy="3.6">TcYC6 _Chr9</text><text transform="translate(604.25,949.06) rotate(-13.07)" text-anchor="middle" dy="3.6">TcYC6 _Chr7</text><text transform="translate(82.76,701.84) rotate(64.19)" text-anchor="middle" dy="3.6">TcYC6 _Chr1</text><text transform="translate(184.51,165.24) rotate(-43.3)" text-anchor="middle" dy="0">TcYC6 _Chr15</text><text transform="translate(397.92,51.47) rotate(-12.82)" text-anchor="middle" dy="0">TcYC6 _Chr30</text></g>
<g stroke="#141414" stroke-width="0.6"><path d="M304.38,821.11 L302.37,819.87 Q500.9,500.43 626.62,145.96 L624.4,145.17 Q500.9,500.43 304.38,821.11 Z" fill="#c8c8c8"/><path d="M125.58,465.53 L125.81,463.18 Q498.39,497.47 626.62,145.96 L624.4,145.17 Q498.39,497.47 125.58,465.53 Z" fill="#699ece"/><path d="M193.32,282.46 L194.69,280.54 Q495.79,486.65 626.62,145.96 L624.4,145.17 Q495.79,486.65 193.32,282.46 Z" fill="#ebe055"/><path d="M501.77,124 L504.13,124.02 Q497.13,500.86 708.29,813.03 L710.26,811.72 Q497.13,500.86 501.77,124 Z" fill="#fdb07a"/><path d="M501.77,124 L504.13,124.02 Q497.24,501.18 774.05,757.44 L775.66,755.71 Q497.24,501.18 501.77,124 Z" fill="#bcbadb"/><path d="M501.77,124 L504.13,124.02 Q508.02,487.33 839.06,337.48 L838.03,335.35 Q508.02,487.33 501.77,124 Z" fill="#9bc8e2"/><path d="M501.77,124 L504.13,124.02 Q505.23,494.63 875.81,488.06 L875.73,485.7 Q505.23,494.63 501.77,124 Z" fill="#fff48c"/><path d="M501.77,124 L504.13,124.02 Q503.69,496.62 874.74,530.74 L874.93,528.39 Q503.69,496.62 501.77,124 Z" fill="#a2d69b"/><path d="M353.39,153.76 L355.57,152.85 Q495.74,478.42 504.13,124.02 L501.77,124 Q495.74,478.42 353.39,153.76 Z" fill="#6aaf84"/></g>
</svg></body></html>
